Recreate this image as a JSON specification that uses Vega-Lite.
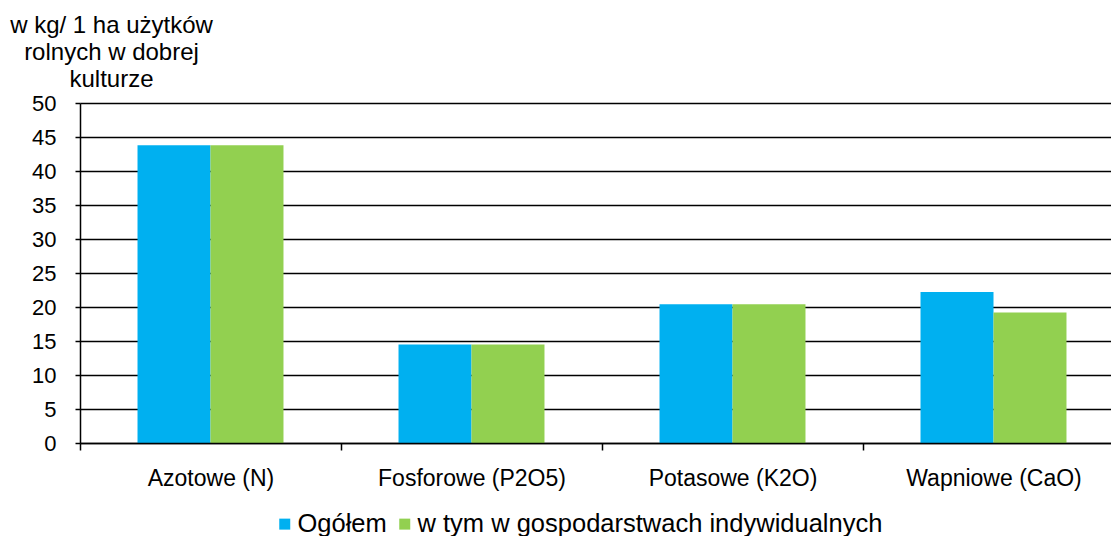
{
  "$schema": "https://vega.github.io/schema/vega-lite/v6.json",
  "width": 1044,
  "height": 340,
  "autosize": {"type": "none"},
  "padding": {"left": 80, "top": 103, "right": 0, "bottom": 93},
  "background": "white",
  "config": {
    "font": "Liberation Sans",
    "view": {"stroke": null},
    "axis": {
      "labelFont": "Liberation Sans",
      "titleFont": "Liberation Sans",
      "labelColor": "black",
      "titleColor": "black",
      "domainColor": "black",
      "tickColor": "black",
      "domainWidth": 1.5,
      "tickWidth": 1.5,
      "labelLimit": 0
    },
    "legend": {"labelFont": "Liberation Sans", "labelLimit": 0}
  },
  "data": {
    "values": [
      {"kategoria": "Azotowe (N)", "seria": "Ogółem", "wartosc": 43.8},
      {"kategoria": "Azotowe (N)", "seria": "w tym  w gospodarstwach indywidualnych", "wartosc": 43.8},
      {"kategoria": "Fosforowe (P2O5)", "seria": "Ogółem", "wartosc": 14.5},
      {"kategoria": "Fosforowe (P2O5)", "seria": "w tym  w gospodarstwach indywidualnych", "wartosc": 14.5},
      {"kategoria": "Potasowe (K2O)", "seria": "Ogółem", "wartosc": 20.4},
      {"kategoria": "Potasowe (K2O)", "seria": "w tym  w gospodarstwach indywidualnych", "wartosc": 20.4},
      {"kategoria": "Wapniowe (CaO)", "seria": "Ogółem", "wartosc": 22.2},
      {"kategoria": "Wapniowe (CaO)", "seria": "w tym  w gospodarstwach indywidualnych", "wartosc": 19.2}
    ]
  },
  "mark": {"type": "bar"},
  "encoding": {
    "x": {
      "field": "kategoria",
      "type": "nominal",
      "sort": ["Azotowe (N)", "Fosforowe (P2O5)", "Potasowe (K2O)", "Wapniowe (CaO)"],
      "scale": {"paddingInner": 0, "paddingOuter": 0},
      "axis": {
        "title": null,
        "labelAngle": 0,
        "labelFontSize": 23,
        "labelPadding": 17,
        "labelBaseline": "top",
        "labelLimit": 0,
        "tickBand": "extent",
        "tickSize": 7,
        "grid": false,
        "zindex": 1
      }
    },
    "xOffset": {
      "field": "seria",
      "type": "nominal",
      "sort": ["Ogółem", "w tym  w gospodarstwach indywidualnych"],
      "scale": {"paddingOuter": 0.788, "paddingInner": 0}
    },
    "y": {
      "field": "wartosc",
      "type": "quantitative",
      "scale": {"domain": [0, 50], "nice": false},
      "axis": {
        "values": [0, 5, 10, 15, 20, 25, 30, 35, 40, 45, 50],
        "grid": true,
        "gridColor": "black",
        "gridWidth": 1.5,
        "gridOpacity": 1,
        "tickSize": 5,
        "labelFontSize": 22,
        "labelPadding": 19,
        "title": ["w kg/ 1 ha użytków", "rolnych w dobrej", "kulturze"],
        "titleFontSize": 24,
        "titleFontWeight": "normal",
        "titleAngle": 0,
        "titleAlign": "center",
        "titleBaseline": "alphabetic",
        "titleLineHeight": 27,
        "titleX": 31,
        "titleY": -71
      }
    },
    "color": {
      "field": "seria",
      "type": "nominal",
      "sort": ["Ogółem", "w tym  w gospodarstwach indywidualnych"],
      "scale": {
        "domain": ["Ogółem", "w tym  w gospodarstwach indywidualnych"],
        "range": ["#00B0F0", "#92D050"]
      },
      "legend": {
        "title": null,
        "orient": "none",
        "direction": "horizontal",
        "legendX": 192,
        "legendY": 408,
        "symbolType": "square",
        "symbolSize": 121,
        "symbolStrokeWidth": 0,
        "labelFontSize": 25.5,
        "labelColor": "black",
        "labelLimit": 0,
        "labelOffset": 0,
        "columnPadding": 5
      }
    }
  }
}
